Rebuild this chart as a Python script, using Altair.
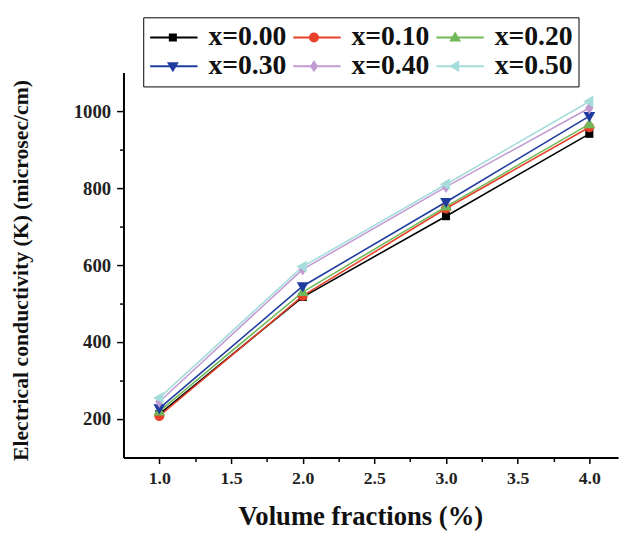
import altair as alt
import pandas as pd

fractions = [1.0, 2.0, 3.0, 4.0]
series_names = ["x=0.00", "x=0.10", "x=0.20", "x=0.30", "x=0.40", "x=0.50"]
series_keys = ["0.00", "0.10", "0.20", "0.30", "0.40", "0.50"]
s000 = [213, 517, 727, 941]
s010 = [208, 520, 747, 958]
s020 = [220, 530, 752, 966]
s030 = [228, 545, 764, 987]
s040 = [245, 589, 803, 1008]
s050 = [255, 596, 810, 1025]
all_series = [s000, s010, s020, s030, s040, s050]

colors = ["#000000", "#e8412a", "#72b85a", "#1f3c9e", "#c39bd3", "#a6dcdc"]
shapes = [
    "M-0.17,-0.17H0.17V0.17H-0.17Z",
    "M0.21,0A0.21,0.21,0,1,1,-0.21,0A0.21,0.21,0,1,1,0.21,0Z",
    "M0,-0.26L0.25,0.17L-0.25,0.17Z",
    "M0,0.26L0.25,-0.17L-0.25,-0.17Z",
    "M0,-0.26L0.17,0L0,0.26L-0.17,0Z",
    "M-0.26,0L0.17,-0.25L0.17,0.25Z",
]

rows = []
for name, key, vals in zip(series_names, series_keys, all_series):
    for xv, yv in zip(fractions, vals):
        rows.append({"frac": xv, "cond": yv, "series": name, "series2": key})
df = pd.DataFrame(rows)

FONT = "Liberation Serif"

legend_common = dict(
    orient="none", legendX=20, legendY=-56, direction="horizontal", columns=3,
    symbolSize=2304, labelFont=FONT, labelFontWeight="bold", labelFontSize=28,
    labelColor="#111111", rowPadding=0, padding=6, clipHeight=29, title=None,
)

x_enc = alt.X(
    "frac:Q",
    scale=alt.Scale(domain=[0.75, 4.2], nice=False, zero=False),
    axis=alt.Axis(
        values=[1.0, 1.25, 1.5, 1.75, 2.0, 2.25, 2.5, 2.75, 3.0, 3.25, 3.5, 3.75, 4.0],
        labelExpr="(datum.value*2) % 1 == 0 ? format(datum.value, '.1f') : ''",
        title="Volume fractions (%)",
        titleFont=FONT, titleFontSize=27, titleFontWeight="bold", titleColor="#111111",
        titleX=240, titleY=60, titleBaseline="middle", titleAlign="center",
        labelFont=FONT, labelFontSize=18, labelFontWeight="bold", labelColor="#222222",
        labelPadding=6,
        tickSize={"condition": {"test": "(datum.value*2) % 1 == 0", "value": 6}, "value": 4},
        tickColor="black", tickWidth=1.5, domainColor="black", domainWidth=2, grid=False,
    ),
)
y_enc = alt.Y(
    "cond:Q",
    scale=alt.Scale(domain=[100, 1100], nice=False, zero=False),
    axis=alt.Axis(
        values=[200, 300, 400, 500, 600, 700, 800, 900, 1000],
        labelExpr="datum.value % 200 == 0 ? format(datum.value, 'd') : ''",
        title="Electrical conductivity (K) (microsec/cm)",
        titleFont=FONT, titleFontSize=22, titleFontWeight="bold", titleColor="#111111",
        titleX=-104, titleY=200, titleAngle=-90, titleBaseline="middle", titleAlign="center",
        labelFont=FONT, labelFontSize=19, labelFontWeight="bold", labelColor="#222222",
        labelPadding=6,
        tickSize={"condition": {"test": "datum.value % 200 == 0", "value": 7}, "value": 4},
        tickColor="black", tickWidth=1.5, domainColor="black", domainWidth=2, grid=False,
    ),
)

lines = alt.Chart(df).mark_line(strokeWidth=1.6).encode(
    x=x_enc,
    y=y_enc,
    color=alt.Color(
        "series:N",
        scale=alt.Scale(domain=series_names, range=colors),
        legend=alt.Legend(symbolType="stroke", symbolStrokeWidth=2, labelOffset=10,
                          columnPadding=6, strokeColor="black", **legend_common),
    ),
    order=alt.Order("frac:Q"),
)

legend_b = alt.Legend(symbolStrokeWidth=0, labelExpr="''", labelOffset=0,
                      columnPadding=95, **legend_common)
points = alt.Chart(df).mark_point(filled=True, opacity=1, size=2304).encode(
    x="frac:Q",
    y="cond:Q",
    fill=alt.Fill("series2:N", scale=alt.Scale(domain=series_keys, range=colors), legend=legend_b),
    shape=alt.Shape("series2:N", scale=alt.Scale(domain=series_keys, range=shapes), legend=legend_b),
)

chart = (
    alt.layer(lines, points)
    .properties(
        width=501, height=390,
        autosize=alt.AutoSizeParams(type="none"),
        padding={"left": 117, "top": 62, "right": 1, "bottom": 75},
        background="white",
    )
    .configure_view(stroke=None)
)

chart.save("out.html", embed_options={"renderer": "svg", "actions": False})
